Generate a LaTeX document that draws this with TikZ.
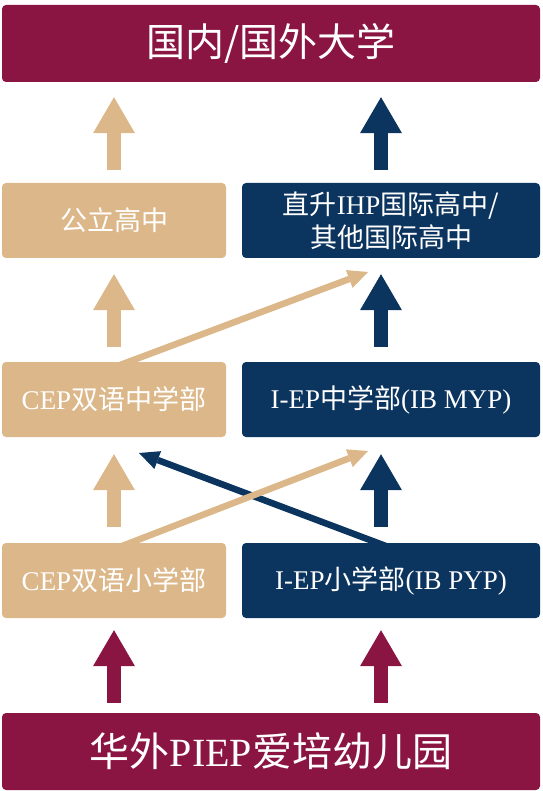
\documentclass[tikz,border=0pt]{standalone}
\usepackage{fontspec}
\setmainfont{Liberation Serif}
\newfontfamily\cjk{Noto Sans CJK SC}
\def \zh#1{{\cjk #1}}
\definecolor{maroon}{HTML}{8A1442}
\definecolor{sand}{HTML}{DCB789}
\definecolor{navy}{HTML}{0B345E}
\usetikzlibrary{arrows.meta, backgrounds}

\tikzset{
 box/.style={rounded corners=4pt, inner sep=0pt, text=white, align=center, font=\fontsize{27}{33}\selectfont},
 wide/.style={box, minimum width=538pt, minimum height=77pt},
 lbox/.style={box, minimum width=224pt, minimum height=75pt},
 rbox/.style={box, minimum width=298pt, minimum height=75pt},
 fat/.style={line width=14pt, -{Triangle[length=36pt, width=42pt, line width=0pt]}},
 link/.style={line width=6.5pt, -{Triangle[length=20pt, width=19pt, line width=0pt]}}
}

\begin{document}
\begin{tikzpicture}[x=1pt, y=-1pt]
\useasboundingbox (0,0) rectangle (542,791);
\node[wide, fill=maroon, font=\cjk\fontsize{39}{39}\selectfont] (uni) at (271,43.5) {国内/国外大学};
\node[lbox, fill=sand] (pub) at (114,220.5) {\zh{公立高中}};
\node[rbox, fill=navy] (ihp) at (391,220.5) {\zh{直升}IHP\zh{国际高中/}\\\zh{其他国际高中}};
\node[lbox, fill=sand] (cepmid) at (114,399.5) {CEP\zh{双语中学部}};
\node[rbox, fill=navy] (iepmid) at (391,399.5) {I-EP\zh{中学部}(IB MYP)};
\node[lbox, fill=sand] (ceppri) at (114,580.5) {CEP\zh{双语小学部}};
\node[rbox, fill=navy] (ieppri) at (391,580.5) {I-EP\zh{小学部}(IB PYP)};
\node[wide, fill=maroon, font=\fontsize{40}{40}\selectfont] (kinder) at (271,751.5) {\zh{华外}PIEP\zh{爱培幼儿园}};

\coordinate (lx) at (114,0);
\coordinate (rx) at (381,0);
\draw[fat, sand, shorten <=13pt, shorten >=15pt] (lx |- pub.north) -- (lx |- uni.south);
\draw[fat, navy, shorten <=13pt, shorten >=15pt] (rx |- ihp.north) -- (rx |- uni.south);
\draw[fat, sand, shorten <=15pt, shorten >=16pt] (lx |- cepmid.north) -- (lx |- pub.south);
\draw[fat, navy, shorten <=15pt, shorten >=16pt] (rx |- iepmid.north) -- (rx |- ihp.south);
\draw[fat, sand, shorten <=16pt, shorten >=17pt] (lx |- ceppri.north) -- (lx |- cepmid.south);
\draw[fat, navy, shorten <=16pt, shorten >=17pt] (rx |- ieppri.north) -- (rx |- iepmid.south);
\draw[fat, maroon, shorten <=10pt, shorten >=12pt] (lx |- kinder.north) -- (lx |- ceppri.south);
\draw[fat, maroon, shorten <=10pt, shorten >=12pt] (rx |- kinder.north) -- (rx |- ieppri.south);

\coordinate (t1) at (368,272);
\coordinate (t2) at (368,451);
\coordinate (t3) at (139,453);
\begin{scope}[on background layer]
 \draw[link, navy] ([xshift=-3pt, yshift=-4pt]ieppri.north) -- (t3);
 \draw[link, sand] ([xshift=4pt, yshift=-4pt]cepmid.north) -- (t1);
 \draw[link, sand] ([xshift=6pt, yshift=-4pt]ceppri.north) -- (t2);
\end{scope}
\end{tikzpicture}
\end{document}
